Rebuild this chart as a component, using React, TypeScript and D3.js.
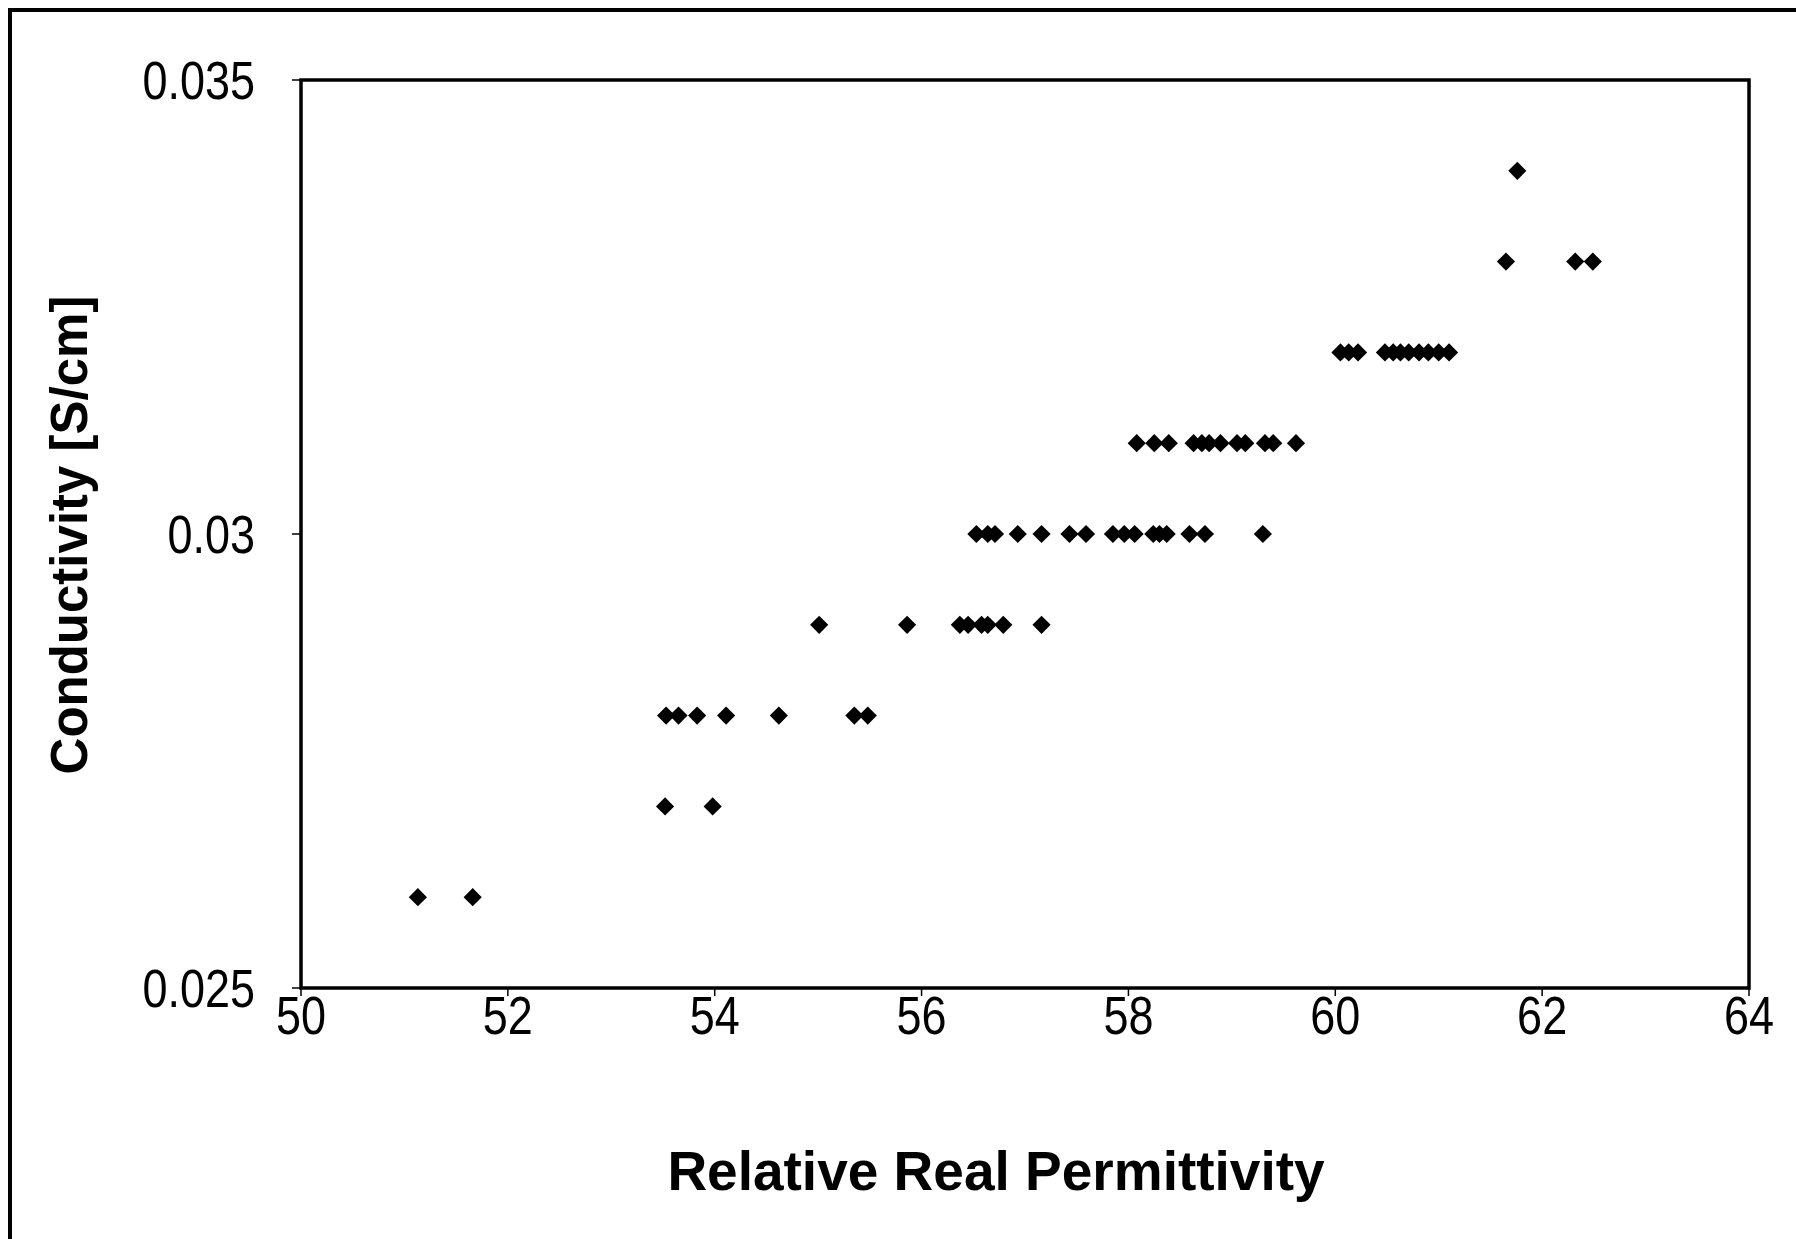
import React, { useEffect } from "react";
import * as d3 from "d3";

// Conductivity levels (S/cm) and permittivity values read per level
const row026 = [51.13, 51.66];
const row027 = [53.52, 53.98];
const row028 = [53.53, 53.65, 53.83, 54.11, 54.62, 55.35, 55.48];
const row029 = [55.01, 55.86, 56.37, 56.45, 56.58, 56.64, 56.79, 57.16];
const row030 = [56.53, 56.64, 56.71, 56.93, 57.16, 57.43, 57.59, 57.85, 57.96, 58.06, 58.24, 58.3, 58.37, 58.59, 58.74, 59.3];
const row031 = [58.08, 58.25, 58.39, 58.63, 58.71, 58.78, 58.89, 59.05, 59.13, 59.32, 59.4, 59.62];
const row032 = [60.05, 60.13, 60.22, 60.48, 60.56, 60.63, 60.71, 60.81, 60.9, 61.0, 61.1];
const row033 = [61.65, 62.32, 62.49];
const row034 = [61.76];

const levels = [0.026, 0.027, 0.028, 0.029, 0.03, 0.031, 0.032, 0.033, 0.034];
const rows = [row026, row027, row028, row029, row030, row031, row032, row033, row034];

const xTicks = [50, 52, 54, 56, 58, 60, 62, 64];
const yTicks = [0.025, 0.03, 0.035];
const yTickLabels = ["0.025", "0.03", "0.035"];

const xTitle = "Relative Real Permittivity";
const yTitle = "Conductivity [S/cm]";

const W = 1796;
const H = 1239;
const L = 301, R = 1749, T = 80, B = 988;

export default function App() {
  useEffect(() => {
    document.body.style.margin = "0";
  }, []);

  const x = d3.scaleLinear().domain([50, 64]).range([L, R]);
  const y = d3.scaleLinear().domain([0.025, 0.035]).range([B, T]);

  const points: { px: number; c: number }[] = [];
  rows.forEach((r, i) => r.forEach((p) => points.push({ px: p, c: levels[i] })));

  const marker = d3.symbol().type(d3.symbolSquare).size(165)() as string;
  const font = "'Liberation Sans', Arial, sans-serif";

  return (
    <svg width={W} height={H} style={{ display: "block", background: "#fff" }}>
      {/* outer frame (left and top visible) */}
      <line x1={10} y1={9} x2={10} y2={H} stroke="#000" strokeWidth={4} />
      <line x1={8} y1={10} x2={W} y2={10} stroke="#000" strokeWidth={4} />

      {/* plot box */}
      <rect x={L} y={T} width={R - L} height={B - T} fill="none" stroke="#000" strokeWidth={3.5} />

      {/* x ticks */}
      {xTicks.map((t) => (
        <g key={"xt" + t}>
          <line x1={x(t)} y1={B} x2={x(t)} y2={B + 8} stroke="#000" strokeWidth={1.5} />
          <text
            transform={`translate(${x(t)},1034) scale(1,1.2)`}
            textAnchor="middle"
            fontFamily={font}
            fontSize={45}
            fill="#000"
          >
            {t}
          </text>
        </g>
      ))}

      {/* y ticks */}
      {yTicks.map((t, i) => (
        <g key={"yt" + t}>
          <line x1={L - 9} y1={y(t)} x2={L} y2={y(t)} stroke="#000" strokeWidth={1.5} />
          <text
            transform={`translate(255,${y(t) + 19}) scale(1,1.2)`}
            textAnchor="end"
            fontFamily={font}
            fontSize={45}
            fill="#000"
          >
            {yTickLabels[i]}
          </text>
        </g>
      ))}

      {/* points */}
      {points.map((d, i) => (
        <path
          key={i}
          d={marker}
          transform={`translate(${x(d.px)},${y(d.c)}) rotate(45)`}
          fill="#000"
        />
      ))}

      {/* axis titles */}
      <text x={996} y={1190} textAnchor="middle" fontFamily={font} fontWeight="bold" fontSize={55} fill="#000">
        {xTitle}
      </text>
      <text
        transform={`translate(87,535) rotate(-90)`}
        textAnchor="middle"
        fontFamily={font}
        fontWeight="bold"
        fontSize={51}
        fill="#000"
      >
        {yTitle}
      </text>
    </svg>
  );
}
